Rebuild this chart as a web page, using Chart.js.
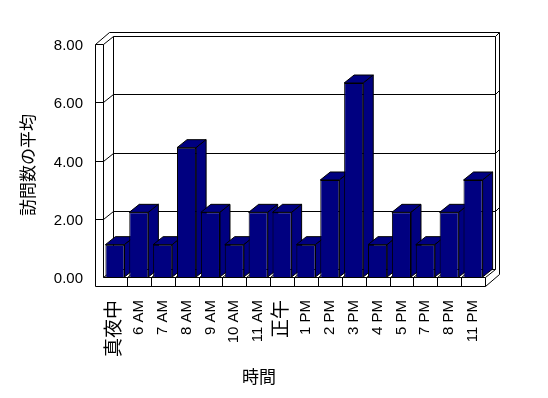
<!DOCTYPE html>
<html><head><meta charset="utf-8">
<script src="https://cdn.jsdelivr.net/npm/chart.js@4/dist/chart.umd.min.js"></script>
<style>html,body{margin:0;padding:0;background:#fff;} canvas{display:block;}</style>
</head><body>
<canvas id="c" width="548" height="398"></canvas>
<script>
const categories = ['真夜中','6 AM','7 AM','8 AM','9 AM','10 AM','11 AM','正午','1 PM','2 PM','3 PM','4 PM','5 PM','7 PM','8 PM','11 PM'];
const visitAverages = [1.11,2.22,1.11,4.44,2.22,1.11,2.22,2.22,1.11,3.33,6.66,1.11,2.22,1.11,2.22,3.33];
const yTickValues = [0,2,4,6,8];
const xTitle = '時間';
const yTitle = '訪問数の平均';

const FONT = "'Liberation Sans','Noto Sans CJK JP',sans-serif";
const CJK = "'Noto Sans CJK JP','Liberation Sans',sans-serif";
const NAVY = '#000080';
const DX = 10, DY = -8, WALL = 8, FLOOR = 9, EX = 4, EY = -4;

function poly(ctx, pts, fill) {
  ctx.beginPath();
  ctx.moveTo(pts[0][0], pts[0][1]);
  for (let i = 1; i < pts.length; i++) ctx.lineTo(pts[i][0], pts[i][1]);
  ctx.closePath();
  if (fill) { ctx.fillStyle = fill; ctx.fill(); }
  ctx.stroke();
}
function seg(ctx, x1, y1, x2, y2) {
  ctx.beginPath(); ctx.moveTo(x1, y1); ctx.lineTo(x2, y2); ctx.stroke();
}
const isCJK = s => /[\u3000-\u9fff]/.test(s);

const box3d = {
  id: 'box3d',
  beforeDatasetsDraw(chart) {
    const {ctx, chartArea: a, scales: {y}} = chart;
    const L = a.left, R = a.right, T = a.top, B = a.bottom;
    const n = categories.length, cw = (R - L) / n;
    ctx.save();
    ctx.translate(0.5, 0.5);
    ctx.lineWidth = 1; ctx.strokeStyle = '#000';
    poly(ctx, [[L - WALL, B + FLOOR], [L - WALL, T], [L - WALL + DX + EX, T + DY + EY],
               [R + DX + EX, T + DY + EY], [R + DX + EX, B + FLOOR + DY + EY], [R, B + FLOOR]], '#fff');
    seg(ctx, L, T, L, B);
    seg(ctx, L - WALL, T, L, T);
    seg(ctx, L, T, L + DX, T + DY);
    poly(ctx, [[L + DX, T + DY], [R + DX, T + DY], [R + DX, B + DY], [L + DX, B + DY]], null);
    seg(ctx, R + DX, T + DY, R + DX + EX, T + DY + EY);
    seg(ctx, L, B, R, B);
    seg(ctx, R, B, R, B + FLOOR);
    seg(ctx, R, B, R + DX, B + DY);
    seg(ctx, L, B, L + DX, B + DY);
    for (let k = 1; k < n; k++) {
      const xb = Math.round(L + k * cw);
      seg(ctx, xb, B, xb, B + FLOOR);
      seg(ctx, xb, B, xb + DX, B + DY);
    }
    yTickValues.forEach(v => {
      if (v === 0 || v === yTickValues[yTickValues.length - 1]) return;
      const yp = Math.round(y.getPixelForValue(v));
      seg(ctx, L - WALL, yp, L, yp);
      seg(ctx, L, yp, L + DX, yp + DY);
      seg(ctx, L + DX, yp + DY, R + DX, yp + DY);
      seg(ctx, R + DX, yp + DY, R + DX + EX, yp + DY + EY);
    });
    ctx.restore();
    ctx.save();
    ctx.lineWidth = 1; ctx.strokeStyle = '#000';
    const meta = chart.getDatasetMeta(0);
    meta.data.forEach(bar => {
      const p = bar.getProps(['x', 'y', 'base', 'width'], true);
      const x0 = p.x - p.width / 2, x1 = p.x + p.width / 2;
      const top = p.y, base = p.base;
      poly(ctx, [[x0, top], [x1, top], [x1 + DX, top + DY], [x0 + DX, top + DY]], NAVY);
      poly(ctx, [[x1, top], [x1 + DX, top + DY], [x1 + DX, base + DY], [x1, base]], NAVY);
    });
    ctx.restore();
  },
  afterDraw(chart) {
    const ctx = chart.ctx;
    ctx.save();
    ctx.fillStyle = '#000';
    ctx.font = '17px ' + CJK;
    ctx.textAlign = 'center';
    ctx.textBaseline = 'middle';
    ctx.fillText(xTitle, 259, 377);
    ctx.translate(28, 165);
    ctx.rotate(-Math.PI / 2);
    ctx.fillText(yTitle, 0, 0);
    ctx.restore();
  }
};

new Chart(document.getElementById('c'), {
  type: 'bar',
  data: {
    labels: categories,
    datasets: [{
      data: visitAverages,
      backgroundColor: NAVY,
      borderColor: '#000',
      borderWidth: 1,
      categoryPercentage: 1.0,
      barPercentage: 0.8
    }]
  },
  options: {
    responsive: false,
    animation: false,
    devicePixelRatio: 1,
    layout: { padding: { top: 44, right: 63, left: 0, bottom: 0 } },
    plugins: { legend: { display: false }, tooltip: { enabled: false } },
    scales: {
      x: {
        grid: { display: false, drawTicks: false },
        border: { display: false },
        afterFit: s => { s.height = 121; },
        ticks: {
          autoSkip: false, minRotation: 90, maxRotation: 90, padding: 23, color: '#000',
          font: c => ({ family: FONT, size: isCJK(categories[c.index] || '') ? 19 : 15 })
        }
      },
      y: {
        min: 0, max: 8,
        grid: { display: false, drawTicks: false },
        border: { display: false },
        afterFit: s => { s.width = 103; },
        afterBuildTicks: s => { s.ticks = yTickValues.map(v => ({ value: v })); },
        ticks: {
          padding: 20, labelOffset: 2, color: '#000',
          font: { family: FONT, size: 15 },
          callback: v => Number(v).toFixed(2)
        }
      }
    }
  },
  plugins: [box3d]
});
</script>
</body></html>
